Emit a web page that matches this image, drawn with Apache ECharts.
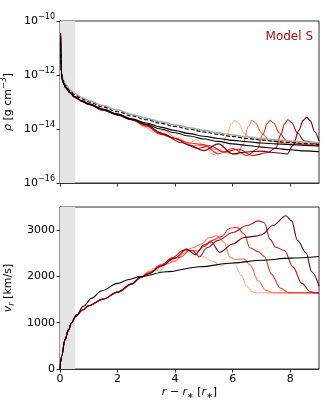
<!DOCTYPE html>
<html>
<head>
<meta charset="utf-8">
<script src="https://cdn.jsdelivr.net/npm/echarts@6/dist/echarts.min.js"></script>
<style>
  html, body { margin: 0; padding: 0; background: #fff; }
  #chart { width: 336px; height: 420px; }
</style>
</head>
<body>
<div id="chart"></div>
<script>
// snapshots light -> dark (Reds)
const snapColors = ['#fcb499', '#fb7858', '#e5382b', '#b51419', '#6b010e'];
const xTicks = [0, 2, 4, 6, 8];
const vTicks = [0, 1000, 2000, 3000];
const coreEdge = 0.53; // grey band, r - r* < 0.53

// density, log10(rho) vs r - r*
const rhoStart = [[0.02, -10.45], [0.05, -11.95], [0.1, -12.27], [0.2, -12.48], [0.35, -12.66], [0.5, -12.82],
  [0.75, -12.97], [1, -13.09], [1.5, -13.3], [2, -13.48], [2.5, -13.66]];
const rhoSnap1 = [[3, -13.95], [3.3, -14.15], [3.6, -14.05], [4, -14.3], [4.4, -14.55], [4.75, -14.4], [5.05, -14.7],
  [5.35, -14.95], [5.6, -14.75], [5.8, -14.25], [5.95, -13.82], [6.07, -13.68], [6.2, -13.78], [6.4, -14.15],
  [6.65, -14.38], [7.2, -14.44], [8, -14.52], [9, -14.6]];
const rhoSnap2 = [[3, -13.9], [3.4, -14.1], [3.8, -14.3], [4.2, -14.4], [4.6, -14.62], [5, -14.6], [5.4, -14.75],
  [5.8, -14.88], [6.15, -14.95], [6.35, -14.6], [6.55, -13.9], [6.67, -13.68], [6.8, -13.78], [7, -14.15],
  [7.3, -14.45], [8, -14.56], [9, -14.62]];
const rhoSnap3 = [[3, -13.9], [3.5, -14.2], [4, -14.35], [4.5, -14.52], [5, -14.58], [5.5, -14.92], [6, -14.72],
  [6.5, -14.98], [6.85, -14.75], [7.05, -14.2], [7.2, -13.8], [7.3, -13.68], [7.42, -13.78], [7.62, -14.15],
  [7.9, -14.45], [8.5, -14.58], [9, -14.63]];
const rhoSnap4 = [[3, -13.85], [3.6, -14.2], [4.2, -14.5], [4.8, -14.72], [5.2, -14.62], [5.7, -14.85], [6.2, -14.75],
  [6.7, -14.98], [7.2, -14.88], [7.5, -14.7], [7.68, -14.2], [7.8, -13.82], [7.92, -13.66], [8.05, -13.76],
  [8.25, -14.15], [8.5, -14.45], [9, -14.6]];
const rhoSnap5 = [[3, -13.85], [3.5, -14.15], [4, -14.35], [4.5, -14.6], [5, -14.8], [5.5, -14.55], [6, -14.92],
  [6.5, -14.85], [7, -14.82], [7.5, -14.88], [7.9, -14.92], [8.1, -14.6], [8.3, -14.05], [8.45, -13.68],
  [8.57, -13.57], [8.7, -13.7], [8.85, -14.1], [9, -14.45]];
const rhoGrey = [[0.02, -10.9], [0.05, -11.9], [0.1, -12.15], [0.2, -12.35], [0.35, -12.55], [0.5, -12.68], [0.75, -12.83],
  [1, -12.95], [1.5, -13.13], [2, -13.3], [2.5, -13.46], [3, -13.6], [3.5, -13.73], [4, -13.85], [4.5, -13.95], [5, -14.05],
  [5.5, -14.14], [6, -14.22], [6.5, -14.29], [7, -14.35], [7.5, -14.4], [8, -14.44], [8.5, -14.48], [9, -14.52]];
const rhoDashed = [[0.02, -11], [0.05, -11.95], [0.1, -12.2], [0.2, -12.4], [0.35, -12.6], [0.5, -12.73], [0.75, -12.88],
  [1, -13.0], [1.5, -13.19], [2, -13.36], [2.5, -13.52], [3, -13.66], [3.5, -13.79], [4, -13.91], [4.5, -14.01], [5, -14.11],
  [5.5, -14.2], [6, -14.28], [6.5, -14.35], [7, -14.41], [7.5, -14.46], [8, -14.5], [8.5, -14.54], [9, -14.57]];
const rhoBlack1 = [[0.02, -10.6], [0.05, -11.95], [0.1, -12.25], [0.2, -12.46], [0.35, -12.65], [0.5, -12.8], [0.75, -12.95],
  [1, -13.07], [1.5, -13.27], [2, -13.45], [2.5, -13.62], [3, -13.78], [3.5, -13.93], [4, -14.06], [4.5, -14.17], [5, -14.27],
  [5.5, -14.35], [6, -14.42], [6.5, -14.47], [7, -14.52], [7.5, -14.55], [8, -14.58], [8.5, -14.61], [9, -14.63]];
const rhoBlack2 = [[0.02, -10.6], [0.05, -11.95], [0.1, -12.25], [0.2, -12.46], [0.35, -12.65], [0.5, -12.8], [0.75, -12.95],
  [1, -13.07], [1.5, -13.27], [2, -13.45], [2.5, -13.64], [3, -13.83], [3.5, -14.0], [4, -14.14], [4.5, -14.26], [5, -14.37],
  [5.5, -14.46], [6, -14.55], [6.5, -14.61], [7, -14.67], [7.5, -14.72], [8, -14.77], [8.5, -14.81], [9, -14.84]];

// radial velocity [km/s]
const vStart = [[0, 0], [0.02, 150], [0.06, 280], [0.17, 630], [0.3, 850], [0.4, 1000], [0.53, 1130], [0.8, 1280],
  [1, 1370], [1.5, 1510], [2, 1660], [2.5, 1840], [2.8, 1980]];
const vSnap1 = [[3.1, 2120], [3.25, 2170], [3.45, 2110], [3.8, 2340], [4, 2330], [4.4, 2600], [4.7, 2480], [5, 2420],
  [5.3, 2330], [5.6, 2230], [5.85, 2280], [6.05, 2290], [6.3, 2020], [6.5, 1780], [6.7, 1660], [6.9, 1645], [9, 1645]];
const vSnap2 = [[3.1, 2100], [3.3, 2130], [3.6, 2250], [4, 2330], [4.3, 2500], [4.6, 2620], [4.9, 2700], [5.2, 2840],
  [5.45, 2880], [5.7, 2740], [5.9, 2420], [6.1, 2360], [6.4, 2380], [6.6, 2250], [6.9, 1900], [7.15, 1700], [7.4, 1648], [9, 1645]];
const vSnap3 = [[3.1, 2080], [3.5, 2250], [3.9, 2380], [4.2, 2420], [4.5, 2560], [4.8, 2550], [5, 2650], [5.3, 2780],
  [5.6, 2860], [5.9, 3040], [6.15, 3060], [6.4, 2920], [6.6, 2620], [6.9, 2530], [7.1, 2430], [7.35, 2050], [7.65, 1750], [7.95, 1650], [9, 1645]];
const vSnap4 = [[3.1, 2070], [3.5, 2230], [3.9, 2400], [4.3, 2570], [4.6, 2560], [4.85, 2420], [5.1, 2620], [5.5, 2780],
  [6, 2950], [6.5, 3100], [6.9, 3200], [7.1, 3160], [7.3, 2800], [7.5, 2630], [7.8, 2560], [8.1, 2200], [8.4, 1850], [8.7, 1670], [8.9, 1645], [9, 1645]];
const vSnap5 = [[3.1, 2060], [3.5, 2220], [4, 2400], [4.4, 2590], [4.7, 2470], [5, 2680], [5.25, 2750], [5.55, 2520],
  [6, 2700], [6.4, 2840], [6.8, 2870], [7, 2900], [7.4, 3100], [7.85, 3310], [8.05, 3200], [8.25, 2780], [8.55, 2510], [8.75, 2100], [9, 1790]];
const vBeta = [[0, 0], [0.02, 150], [0.06, 280], [0.17, 630], [0.3, 850], [0.4, 1000], [0.58, 1175], [0.81, 1355],
  [1.1, 1530], [1.45, 1690], [2, 1850], [2.4, 1935], [2.78, 1995], [3.7, 2100], [4.86, 2210], [6, 2290], [7, 2350], [8, 2395], [9, 2430]];

const rhoSnaps = [rhoSnap1, rhoSnap2, rhoSnap3, rhoSnap4, rhoSnap5];
const vSnaps = [vSnap1, vSnap2, vSnap3, vSnap4, vSnap5];

const FONT = 'DejaVu Sans';
const INK = '#333';
const toRho = (pts) => pts.map(p => [p[0], Math.pow(10, p[1])]);

function line(data, color, grid, extra) {
  return Object.assign({
    type: 'line', xAxisIndex: grid, yAxisIndex: grid, data: data,
    showSymbol: false, smooth: 0.35, smoothMonotone: 'x', silent: true, z: 3,
    lineStyle: { color: color, width: 1.1 }
  }, extra || {});
}

const series = [];
// grey band on both panels
[0, 1].forEach(g => series.push({
  type: 'line', xAxisIndex: g, yAxisIndex: g, data: [], silent: true, z: 1,
  markArea: { silent: true, itemStyle: { color: '#e5e5e5' }, data: [[{ xAxis: 0 }, { xAxis: coreEdge }]] }
}));
rhoSnaps.forEach((s, i) => series.push(line(toRho(rhoStart.concat(s)), snapColors[i], 0)));
series.push(line(toRho(rhoGrey), '#a8a8a8', 0, { lineStyle: { color: '#a8a8a8', width: 1.5 } }));
series.push(line(toRho(rhoDashed), '#000', 0, { lineStyle: { color: '#000', width: 1.1, type: [4, 2] } }));
series.push(line(toRho(rhoBlack1), '#000', 0));
series.push(line(toRho(rhoBlack2), '#000', 0));
vSnaps.forEach((s, i) => series.push(line(vStart.concat(s), snapColors[i], 1)));
series.push(line(vBeta, '#000', 1, { z: 4 }));

const sup = { fontSize: 8, fontFamily: FONT, color: '#000', verticalAlign: 'top', lineHeight: 16 };
const base = { fontSize: 11, fontFamily: FONT, color: '#000', lineHeight: 16 };
const ital = { fontSize: 11, fontFamily: FONT, color: '#000', fontStyle: 'italic', lineHeight: 16 };
const sub = { fontSize: 8, fontFamily: FONT, color: '#000', fontStyle: 'italic', verticalAlign: 'bottom', lineHeight: 14 };

function xAxis(grid, labels) {
  return {
    type: 'value', gridIndex: grid, min: 0, max: 9,
    axisLine: { show: true, lineStyle: { color: INK, width: 1 } },
    axisTick: { show: true, length: 3.5, lineStyle: { color: INK }, customValues: xTicks },
    axisLabel: { show: labels, customValues: xTicks, margin: 5, fontSize: 11, fontFamily: FONT, color: '#000' },
    splitLine: { show: false },
    name: labels ? '{i|r} − {i|r}{s|∗} [{i|r}{s|∗}]' : '',
    nameLocation: 'middle', nameGap: 15,
    nameTextStyle: { fontSize: 11, fontFamily: FONT, color: '#000', rich: { i: ital, s: sub } }
  };
}

const gridBase = { left: 60, right: 17, height: 162, show: true, borderColor: INK, borderWidth: 1,
  containLabel: false, outerBoundsMode: 'none' };

const option = {
  animation: false,
  backgroundColor: '#fff',
  grid: [
    Object.assign({ top: 21 }, gridBase),
    Object.assign({ top: 207 }, gridBase)
  ],
  xAxis: [xAxis(0, false), xAxis(1, true)],
  yAxis: [
    {
      type: 'log', logBase: 100, gridIndex: 0, min: 1e-16, max: 1e-10,
      axisLine: { show: true, lineStyle: { color: INK } },
      axisTick: { show: true, length: 3.5, lineStyle: { color: INK } },
      minorTick: { show: false },
      splitLine: { show: false },
      axisLabel: {
        margin: 5,
        formatter: v => '{b|10}{s|−' + Math.abs(Math.round(Math.log10(v))) + '}',
        rich: { b: base, s: sup }
      },
      name: '{i|ρ} [g cm{s|−3}]', nameLocation: 'middle', nameGap: 38, nameRotate: 90,
      nameTextStyle: { fontSize: 11, fontFamily: FONT, color: '#000', rich: { i: ital, s: sup, b: base } }
    },
    {
      type: 'value', gridIndex: 1, min: 0, max: 3500,
      axisLine: { show: true, lineStyle: { color: INK } },
      axisTick: { show: true, length: 3.5, lineStyle: { color: INK }, customValues: vTicks },
      axisLabel: { margin: 5, customValues: vTicks, formatter: v => String(v), fontSize: 11, fontFamily: FONT, color: '#000' },
      splitLine: { show: false },
      name: '{i|v}{s|r} [km/s]', nameLocation: 'middle', nameGap: 38, nameRotate: 90,
      nameTextStyle: { fontSize: 11, fontFamily: FONT, color: '#000', rich: { i: ital, s: sub } }
    }
  ],
  graphic: [{
    type: 'text', right: 23, top: 31,
    style: { text: 'Model S', fontSize: 12, fontFamily: FONT, fill: '#a50f15' }
  }],
  series: series
};

const chart = echarts.init(document.getElementById('chart'));
chart.setOption(option);
</script>
</body>
</html>
